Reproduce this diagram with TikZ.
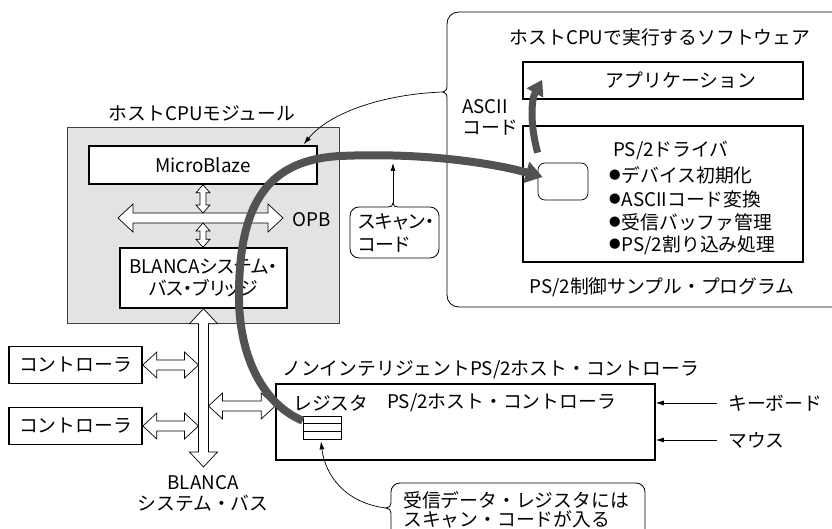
\documentclass[tikz,border=0pt]{standalone}
\usepackage{fontspec}
\setmainfont{Noto Sans CJK JP}
\newfontfamily\pfont[RawFeature=+palt]{Noto Sans CJK JP}
\usetikzlibrary{calc,arrows.meta}
\tikzset{
  box/.style={draw, line width=1.6pt, inner sep=0pt, fill=white},
  lbl/.style={inner sep=0pt},
  blk/.style={draw, line width=0.7pt, fill=white, line join=miter},
  ptr/.style={line width=0.7pt, -{Latex[length=8pt,width=5pt]}},
  panel/.style={draw, line width=0.8pt},
  flow/.style={draw=black!68, line width=8pt, -{Triangle[length=17pt,width=21pt]}},
  flowb/.style={draw=black!68, line width=7pt, -{Triangle[length=15pt,width=18pt]}}
}
% horizontal double block arrow: #1 left tip, #2 right tip, shaft half, head half, head length
\newcommand\hblk[5]{\draw[blk] let \p1=(#1), \p2=(#2) in
  (\x1,\y1) -- (\x1+#5,\y1+#4) -- (\x1+#5,\y1+#3) -- (\x2-#5,\y1+#3) -- (\x2-#5,\y1+#4) -- (\x2,\y1)
  -- (\x2-#5,\y1-#4) -- (\x2-#5,\y1-#3) -- (\x1+#5,\y1-#3) -- (\x1+#5,\y1-#4) -- cycle;}
% vertical double block arrow: #1 top tip, #2 bottom tip
\newcommand\vblk[5]{\draw[blk] let \p1=(#1), \p2=(#2) in
  (\x1,\y1) -- (\x1+#4,\y1-#5) -- (\x1+#3,\y1-#5) -- (\x1+#3,\y2+#5) -- (\x1+#4,\y2+#5) -- (\x1,\y2)
  -- (\x1-#4,\y2+#5) -- (\x1-#3,\y2+#5) -- (\x1-#3,\y1-#5) -- (\x1-#4,\y1-#5) -- cycle;}
\newcommand\bul{\raisebox{2.8pt}{\fontsize{11.5}{11.5}\selectfont ●}\hspace{1pt}}
\begin{document}
\begin{tikzpicture}[x=1pt,y=-1pt, font=\fontsize{18.8}{22}\selectfont]
\useasboundingbox (0,0) rectangle (832,529);

% ---------- host CPU module ----------
\node[draw=black!75, line width=0.8pt, fill=black!11, minimum width=272pt, minimum height=196pt, inner sep=0pt] (mod) at (203,225) {};
\node[lbl] (modt) at (202,113) {ホストCPUモジュール};
\node[box, minimum width=228pt, minimum height=38pt] (mb) at (203,165) {MicroBlaze};
\node[box, line width=1.4pt, minimum width=167pt, minimum height=60pt, align=center, font=\fontsize{18.8}{22}\selectfont\pfont] (br) at (203.5,278)
  {BLANCAシステム・\\[-0.5pt]バス・ブリッジ};
\coordinate (opbL) at (118,218);
\coordinate (opbR) at (283,218);
\hblk{opbL}{opbR}{5pt}{14pt}{15pt}
\node[lbl] (opb) at (312,220) {OPB};
\coordinate (opbT) at (203,213);
\coordinate (opbB) at (203,223);
\vblk{mb.south}{opbT}{3pt}{7pt}{8pt}
\vblk{opbB}{br.north -| opbB}{3pt}{7pt}{8pt}

% ---------- system bus ----------
\coordinate (busB) at (203.5,467);
\vblk{br.south}{busB}{5pt}{14pt}{15pt}
\node[lbl, align=center] (busl) at (203,493) {BLANCA\\[-1pt]システム・バス};

\node[box, minimum width=133pt, minimum height=37pt] (c1) at (75.5,365) {コントローラ};
\node[box, minimum width=133pt, minimum height=37pt] (c2) at (75.5,426) {コントローラ};
\coordinate (c1b) at ($(c1.east -| br.south)+(-5,0)$);
\coordinate (c2b) at ($(c2.east -| br.south)+(-5,0)$);
\hblk{c1.east}{c1b}{5pt}{13pt}{14pt}
\hblk{c2.east}{c2b}{5pt}{13pt}{14pt}

% ---------- PS/2 host controller ----------
\node[box, minimum width=379pt, minimum height=76pt] (ps2) at (465.5,422) {};
\node[lbl, anchor=west] (ps2t) at (282,370) {ノンインテリジェントPS/2ホスト・コントローラ};
\node[lbl, anchor=west] (regl) at (293,403) {レジスタ};
\node[lbl, anchor=west] (ps2l) at (387,403) {PS/2ホスト・コントローラ};
\node[draw, line width=0.7pt, minimum width=38pt, minimum height=23pt, inner sep=0pt] (reg) at (322,427.5) {};
\draw[line width=0.7pt] ($(reg.north west)+(0,7.7)$) -- ($(reg.north east)+(0,7.7)$);
\draw[line width=0.7pt] ($(reg.north west)+(0,15.3)$) -- ($(reg.north east)+(0,15.3)$);
\coordinate (busR) at ($(c1b)+(10,41)$);
\hblk{busR}{$(ps2.north west)+(0,22)$}{5pt}{13pt}{14pt}

\node[lbl, anchor=west] (kb) at (728,403) {キーボード};
\node[lbl, anchor=west] (ms) at (728,440) {マウス};
\draw[ptr] ($(kb.west)+(-11,0)$) -- (kb.west -| ps2.east);
\draw[ptr] ($(ms.west)+(-11,0)$) -- (ms.west -| ps2.east);

% callout: receive data register
\coordinate (bnotch) at (386,508);
\draw[panel] (645,540) -- (645,492) .. controls (645,487) and (641,483) .. (636,483) -- (400,483)
  .. controls (395,483) and (391,487) .. (391,492) -- (391,503)
  .. controls (391,506) and (389,508) .. (bnotch) .. controls (389,508) and (391,510) .. (391,513) -- (391,540);
\node[lbl, anchor=west] (cb1) at (403,500) {受信データ・レジスタには};
\node[lbl, anchor=west] (cb2) at (403,519) {スキャン・コードが入る};
\draw[ptr] (bnotch) .. controls (345,503) and (325,475) .. ($(reg.south)+(-1,2)$);

% ---------- software panel ----------
\coordinate (pnotch) at (443,92);
\draw[panel] (845,12) -- (459,12) .. controls (452,12) and (447,17) .. (447,24) -- (447,86)
  .. controls (447,90) and (445,92) .. (pnotch) .. controls (445,92) and (447,94) .. (447,98)
  -- (447,295) .. controls (447,302) and (452,307) .. (459,307) -- (845,307);
\node[lbl] (swt) at (660,37) {ホストCPUで実行するソフトウェア};
\node[box, minimum width=280pt, minimum height=37pt] (app) at (663,80.5) {};
\node[lbl] (appl) at (681,80) {アプリケーション};
\node[box, minimum width=280pt, minimum height=136pt] (drv) at (663,194) {};
\node[draw, line width=0.7pt, rounded corners=7pt, minimum width=50pt, minimum height=37pt, inner sep=0pt] (sbox) at (563,181.5) {};
\node[lbl, anchor=west] (drvl) at (613,150) {PS/2ドライバ};
\node[lbl, anchor=west] (d1) at (609,175) {\bul デバイス初期化};
\node[lbl, anchor=west] (d2) at (609,199) {\bul ASCIIコード変換};
\node[lbl, anchor=west] (d3) at (609,222) {\bul 受信バッファ管理};
\node[lbl, anchor=west] (d4) at (609,245) {\bul PS/2割り込み処理};
\node[lbl] (prog) at (662,287) {PS/2制御サンプル・プログラム};
\node[lbl, anchor=west] (as1) at (462,107) {ASCII};
\node[lbl, anchor=west] (as2) at (462,128) {コード};

% scan code callout
\coordinate (snotch) at (393,203);
\draw[panel] (359,207) -- (388,207) .. controls (391,207) and (393,206) .. (snotch)
  .. controls (393,206) and (395,207) .. (398,207) -- (430,207) .. controls (435,207) and (439,211) .. (439,216)
  -- (439,249) .. controls (439,254) and (435,258) .. (430,258) -- (359,258)
  .. controls (354,258) and (350,254) .. (350,249) -- (350,216) .. controls (350,211) and (354,207) .. (359,207) -- cycle;
\node[lbl, anchor=west, font=\fontsize{18.8}{22}\selectfont\pfont] (sc1) at (358,222) {スキャン・};
\node[lbl, anchor=west, font=\fontsize{18.8}{22}\selectfont\pfont] (sc2) at (358,245) {コード};

% pointer from software panel to MicroBlaze
\draw[ptr] (pnotch) .. controls (385,94) and (330,112) .. ($(mb.north east)+(-14,-1)$);

% data flow
\draw[flow] ($(reg.north west)+(0,5)$) .. controls (265,405) and (240,360) .. (239,300)
  .. controls (238,200) and (270,160) .. (340,156)
  .. controls (430,152) and (500,165) .. ($(sbox.west)+(5,-4.5)$);
\draw[ptr] (snotch) -- (393,163);
\draw[flowb] ($(sbox.north west)+(0,-10)$) .. controls (530,125) and (531,100) .. ($(app.south west)+(20,-20)$);
\end{tikzpicture}
\end{document}
